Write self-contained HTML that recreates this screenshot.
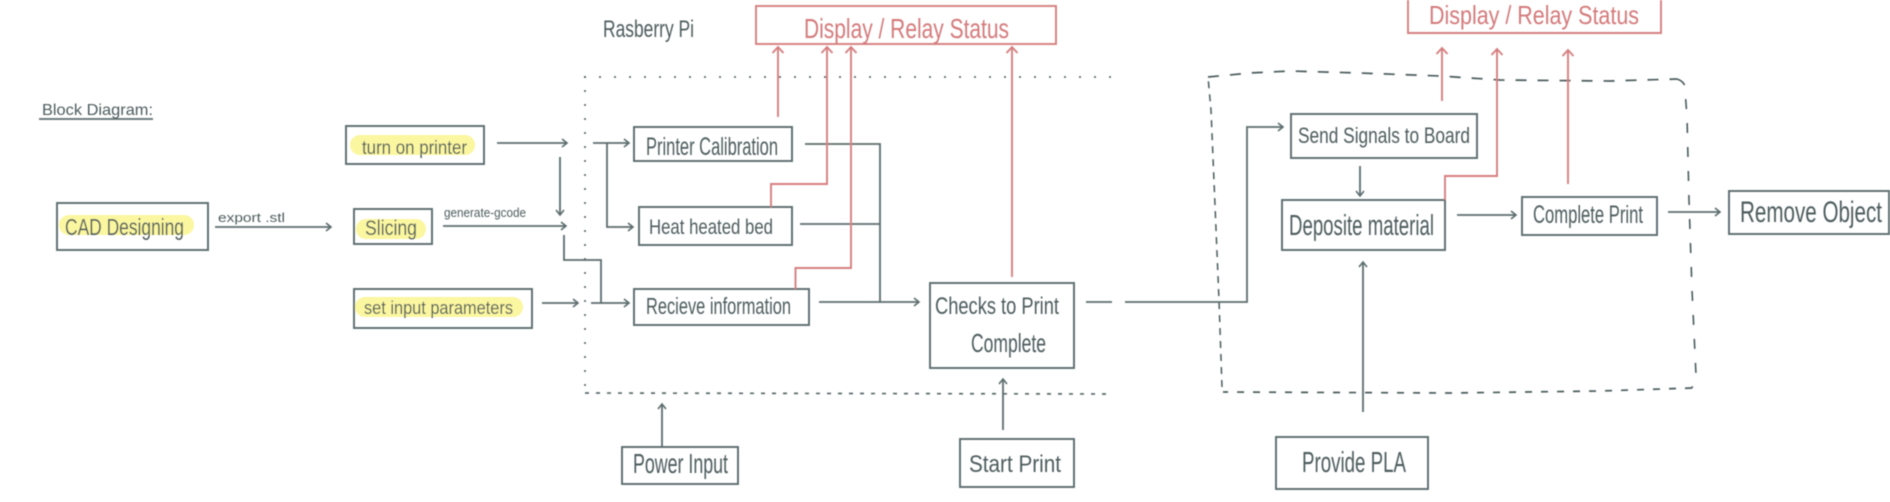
<!DOCTYPE html>
<html>
<head>
<meta charset="utf-8">
<style>
html,body{margin:0;padding:0;background:#fff;width:1890px;height:502px;overflow:hidden}
svg{display:block}
text{font-family:"Liberation Sans",sans-serif;fill:#4d5c5d;stroke:none;font-weight:normal}
.box{fill:none;stroke:#5c6c6d;stroke-width:1.9}
.ln{fill:none;stroke:#5c6c6d;stroke-width:1.8}
.rd{fill:none;stroke:#d67f80;stroke-width:1.9}
text.r{fill:#d47a7b}
</style>
</head>
<body>
<svg width="1890" height="502" viewBox="0 0 1890 502" xmlns="http://www.w3.org/2000/svg">
<defs>
<filter id="b" x="-2%" y="-2%" width="104%" height="104%"><feGaussianBlur stdDeviation="0.45"/></filter>
<marker id="a" markerUnits="userSpaceOnUse" markerWidth="14" markerHeight="14" refX="11" refY="7" orient="auto"><path d="M6 3L11 7L6 11" fill="none" stroke="#5c6c6d" stroke-width="1.6"/></marker>
<marker id="ar" markerUnits="userSpaceOnUse" markerWidth="16" markerHeight="16" refX="13" refY="8" orient="auto"><path d="M7 2.500L13 8L7 13.500" fill="none" stroke="#d67f80" stroke-width="1.9"/></marker>
</defs>
<g filter="url(#b)">
<!-- highlights -->
<g fill="#fbf6a0">
<rect x="59" y="215" width="135" height="20" rx="10"/>
<rect x="350" y="135" width="125" height="20" rx="10"/>
<rect x="356" y="219" width="70" height="20" rx="10"/>
<rect x="355" y="297" width="168" height="20" rx="10"/>
</g>
<!-- left region -->
<path d="M585 77H1111" fill="none" stroke="#4a5a5b" stroke-width="2" stroke-linecap="round" stroke-dasharray="0 15"/>
<path d="M585 77V393" fill="none" stroke="#4a5a5b" stroke-width="2" stroke-linecap="round" stroke-dasharray="0 14"/>
<path d="M585 393L1111 394" fill="none" stroke="#5a6a6b" stroke-width="1.7" stroke-dasharray="4 7"/>
<!-- right region -->
<path d="M1208 77L1250 73L1290 71L1360 73L1440 76L1500 80L1610 81L1677 79" fill="none" stroke="#4a5a5b" stroke-width="1.7" stroke-dasharray="11 11"/>
<path d="M1677 79Q1686 82 1685 90L1687 117L1689 200L1692 290L1696 375L1692 388" fill="none" stroke="#4a5a5b" stroke-width="1.6" stroke-dasharray="10 14"/>
<path d="M1692 388L1600 391L1450 393L1223 392" fill="none" stroke="#4a5a5b" stroke-width="1.7" stroke-dasharray="7 9"/>
<path d="M1222 387L1219 300L1211 110L1208 77" fill="none" stroke="#4a5a5b" stroke-width="1.5" stroke-dasharray="7 6"/>
<!-- boxes -->
<rect class="box" x="57" y="203" width="151" height="47"/>
<rect class="box" x="346" y="126" width="138" height="38"/>
<rect class="box" x="354" y="209" width="78" height="35"/>
<rect class="box" x="354" y="289" width="178" height="39"/>
<rect class="box" x="634" y="127" width="158" height="34"/>
<rect class="box" x="639" y="207" width="153" height="38"/>
<rect class="box" x="634" y="289" width="175" height="36"/>
<rect class="box" x="930" y="283" width="144" height="85"/>
<rect class="box" x="622" y="447" width="116" height="37"/>
<rect class="box" x="960" y="439" width="114" height="48"/>
<rect class="box" x="1291" y="114" width="186" height="44"/>
<rect class="box" x="1282" y="200" width="163" height="50"/>
<rect class="box" x="1522" y="197" width="135" height="38"/>
<rect class="box" x="1729" y="191" width="160" height="43"/>
<rect class="box" x="1276" y="437" width="152" height="52"/>
<rect class="rd" x="756" y="6" width="300" height="38"/>
<path class="rd" d="M1408 0V33H1661V0"/>
<!-- dark connectors -->
<path class="ln" d="M39 119H153"/>
<path class="ln" d="M215 227H331" marker-end="url(#a)"/>
<path class="ln" d="M443 226H566" marker-end="url(#a)"/>
<path class="ln" d="M497 143H567" marker-end="url(#a)"/>
<path class="ln" d="M560 157V215" marker-end="url(#a)"/>
<path class="ln" d="M564 235V260H601V303"/>
<path class="ln" d="M542 303H578" marker-end="url(#a)"/>
<path class="ln" d="M593 143H629" marker-end="url(#a)"/>
<path class="ln" d="M607 143V227H633" marker-end="url(#a)"/>
<path class="ln" d="M591 303H629" marker-end="url(#a)"/>
<path class="ln" d="M805 144H880V302"/>
<path class="ln" d="M800 224H880"/>
<path class="ln" d="M819 302H919" marker-end="url(#a)"/>
<path class="ln" d="M1086 302H1112"/>
<path class="ln" d="M1125 302H1247V127H1283" marker-end="url(#a)"/>
<path class="ln" d="M662 447V404" marker-end="url(#a)"/>
<path class="ln" d="M1003 430V379" marker-end="url(#a)"/>
<path class="ln" d="M1360 166V196" marker-end="url(#a)"/>
<path class="ln" d="M1457 215H1516" marker-end="url(#a)"/>
<path class="ln" d="M1668 212H1720" marker-end="url(#a)"/>
<path class="ln" d="M1363 412V262" marker-end="url(#a)"/>
<!-- red connectors -->
<path class="rd" d="M778 117V47" marker-end="url(#ar)"/>
<path class="rd" d="M771 207V184H827V47" marker-end="url(#ar)"/>
<path class="rd" d="M795.500 289V268H851V47" marker-end="url(#ar)"/>
<path class="rd" d="M1012 277V47" marker-end="url(#ar)"/>
<path class="rd" d="M1442 101V48" marker-end="url(#ar)"/>
<path class="rd" d="M1445 200V176H1497V49" marker-end="url(#ar)"/>
<path class="rd" d="M1568 184V50" marker-end="url(#ar)"/>
<!-- labels -->
<text x="42" y="115" font-size="16" textLength="111" lengthAdjust="spacingAndGlyphs">Block Diagram:</text>
<text x="65" y="235" font-size="23" textLength="119" lengthAdjust="spacingAndGlyphs">CAD Designing</text>
<text x="362" y="154" font-size="19" textLength="105" lengthAdjust="spacingAndGlyphs">turn on printer</text>
<text x="365" y="235" font-size="21" textLength="52" lengthAdjust="spacingAndGlyphs">Slicing</text>
<text x="364" y="314" font-size="18" textLength="149" lengthAdjust="spacingAndGlyphs">set input parameters</text>
<text x="218" y="222" font-size="13" textLength="67" lengthAdjust="spacingAndGlyphs">export .stl</text>
<text x="444" y="217" font-size="13" textLength="82" lengthAdjust="spacingAndGlyphs">generate-gcode</text>
<text x="603" y="37" font-size="24" textLength="91" lengthAdjust="spacingAndGlyphs">Rasberry Pi</text>
<text class="r" x="804" y="38" font-size="28" textLength="205" lengthAdjust="spacingAndGlyphs">Display / Relay Status</text>
<text x="646" y="155" font-size="25" textLength="132" lengthAdjust="spacingAndGlyphs">Printer Calibration</text>
<text x="649" y="234" font-size="21" textLength="124" lengthAdjust="spacingAndGlyphs">Heat heated bed</text>
<text x="646" y="314" font-size="23" textLength="145" lengthAdjust="spacingAndGlyphs">Recieve information</text>
<text x="935" y="314" font-size="24" textLength="124" lengthAdjust="spacingAndGlyphs">Checks to Print</text>
<text x="971" y="352" font-size="26" textLength="75" lengthAdjust="spacingAndGlyphs">Complete</text>
<text x="633" y="473" font-size="28" textLength="95" lengthAdjust="spacingAndGlyphs">Power Input</text>
<text x="969" y="472" font-size="24" textLength="92" lengthAdjust="spacingAndGlyphs">Start Print</text>
<text class="r" x="1429" y="24" font-size="26" textLength="210" lengthAdjust="spacingAndGlyphs">Display / Relay Status</text>
<text x="1298" y="143" font-size="22" textLength="172" lengthAdjust="spacingAndGlyphs">Send Signals to Board</text>
<text x="1289" y="235" font-size="29" textLength="145" lengthAdjust="spacingAndGlyphs">Deposite material</text>
<text x="1533" y="223" font-size="25" textLength="110" lengthAdjust="spacingAndGlyphs">Complete Print</text>
<text x="1740" y="222" font-size="30" textLength="142" lengthAdjust="spacingAndGlyphs">Remove Object</text>
<text x="1302" y="472" font-size="29" textLength="104" lengthAdjust="spacingAndGlyphs">Provide PLA</text>
</g>
</svg>
</body>
</html>
